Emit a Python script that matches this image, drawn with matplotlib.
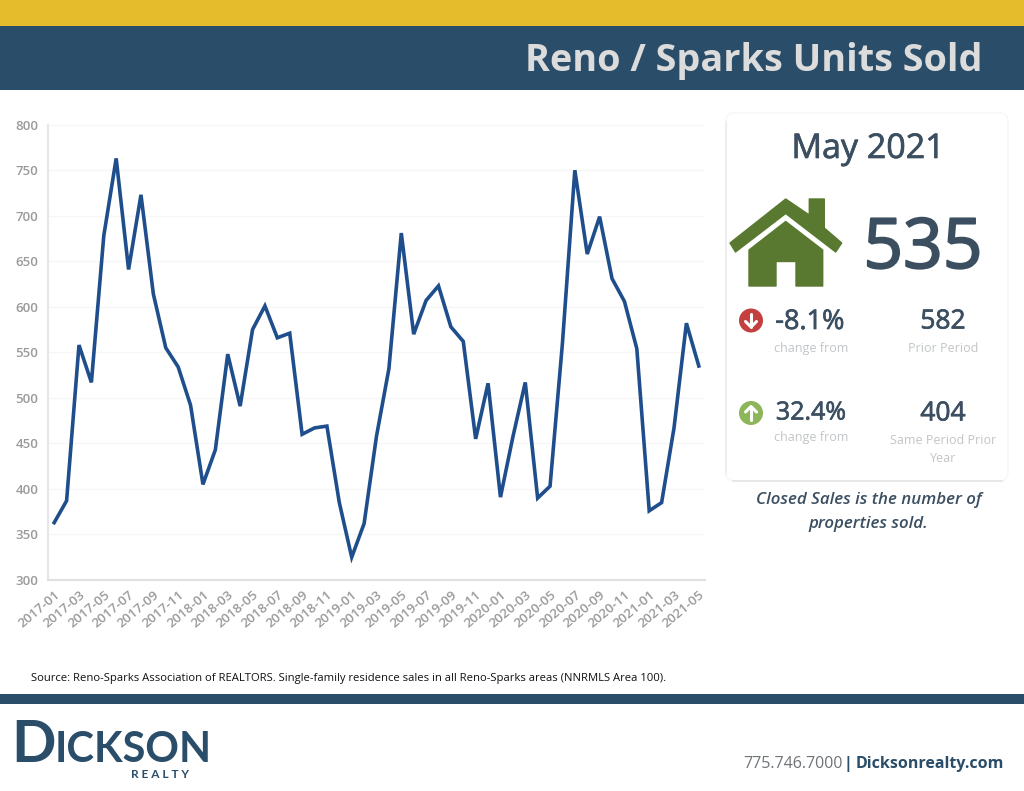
import matplotlib
matplotlib.use('Agg')
import matplotlib.pyplot as plt
import matplotlib.patheffects as pe
from matplotlib.patches import Rectangle, Polygon, Circle, FancyBboxPatch

months = ['%d-%02d' % (y, m) for y in range(2017, 2022) for m in range(1, 13)][:53]
units = [363, 387, 558, 517, 678, 763, 641, 723, 614, 555, 534, 492,
         405, 443, 548, 491, 575, 601, 566, 571, 460, 467, 469, 385,
         325, 362, 458, 532, 681, 570, 607, 623, 578, 562, 455, 516,
         391, 457, 517, 390, 403, 560, 750, 658, 699, 631, 606, 554,
         376, 385, 467, 582, 535]
y_ticks = [300, 350, 400, 450, 500, 550, 600, 650, 700, 750, 800]

W, H = 1024, 791
NAVY = '#2A4D69'
SLATE = '#3B4F61'
LABEL = '#C2C5C7'

fig = plt.figure(figsize=(W/100, H/100), dpi=100)
fig.set_facecolor('white')

# page furniture is laid out in pixels on a full size axes
bg = fig.add_axes([0, 0, 1, 1], xlim=(0, W), ylim=(H, 0))
bg.axis('off')
bg.add_patch(Rectangle((0, 0), W, 25.5, fc='#E5BC2B', ec='none'))
bg.add_patch(Rectangle((0, 25.5), W, 64.5, fc=NAVY, ec='none'))
bg.add_patch(Rectangle((0, 694), W, 10, fc=NAVY, ec='none'))
bg.text(982, 61, 'Reno / Sparks Units Sold', ha='right', va='center', color='#DCDCDC',
        family='Open Sans', weight='bold', fontsize=27.2)

# card
bg.add_patch(FancyBboxPatch((731, 118), 272, 358, boxstyle='round,pad=5,rounding_size=8',
                            fc='white', ec='#F8F8F8', lw=1.2))
bg.plot([726, 726], [122, 473], color='#EEEEEE', lw=1.5)
bg.plot([733, 1002], [481, 481], color='#E8E8E8', lw=1.5)
t = bg.text(868, 149, 'May 2021', ha='center', va='center', color=SLATE, family='Open Sans', fontsize=24.5)
t.set_path_effects([pe.withStroke(linewidth=0.5, foreground=SLATE)])
t = bg.text(923, 250, '535', ha='center', va='center', color=SLATE, family='Open Sans', fontsize=50)
t.set_path_effects([pe.withStroke(linewidth=1.4, foreground=SLATE)])

# house icon
GREEN = '#58792F'
roof = [(785.7, 199), (730, 243), (735.5, 252), (785.7, 213.5), (835.7, 252), (841.7, 243),
        (824.3, 228), (824.3, 199), (809.3, 199), (809.3, 215)]
body = [(785.7, 221.5), (822.7, 250), (822.7, 286), (796, 286), (796, 261.5), (776, 261.5),
        (776, 286), (749, 286), (749, 250)]
bg.add_patch(Polygon(roof, closed=True, fc=GREEN, ec=GREEN, lw=1, joinstyle='round'))
bg.add_patch(Polygon(body, closed=True, fc=GREEN, ec=GREEN, lw=1, joinstyle='round'))

# change rows
bg.add_patch(Circle((751, 320.5), 12, fc='#C4403F', ec='none'))
bg.plot([751, 751], [314, 327], color='white', lw=2.2, solid_capstyle='round')
bg.plot([745.5, 751, 756.5], [321.5, 327, 321.5], color='white', lw=2.2, solid_capstyle='round')
bg.add_patch(Circle((751, 413), 12, fc='#8DB65A', ec='none'))
bg.plot([751, 751], [406.5, 419.5], color='white', lw=2.2, solid_capstyle='round')
bg.plot([745.5, 751, 756.5], [412, 406.5, 412], color='white', lw=2.2, solid_capstyle='round')

stroke = [pe.withStroke(linewidth=0.5, foreground=SLATE)]
bg.text(810, 322, '-8.1%', ha='center', va='center', color=SLATE, family='Open Sans',
        fontsize=19.5, path_effects=stroke)
bg.text(811, 348.5, 'change from', ha='center', va='center', color=LABEL, family='Open Sans', fontsize=9)
bg.text(943, 322, '582', ha='center', va='center', color=SLATE, family='Open Sans',
        fontsize=19, path_effects=stroke)
bg.text(943, 348.5, 'Prior Period', ha='center', va='center', color=LABEL, family='Open Sans', fontsize=9)
bg.text(811, 413, '32.4%', ha='center', va='center', color=SLATE, family='Open Sans',
        fontsize=18, path_effects=stroke)
bg.text(811, 437.5, 'change from', ha='center', va='center', color=LABEL, family='Open Sans', fontsize=9)
bg.text(943, 414, '404', ha='center', va='center', color=SLATE, family='Open Sans',
        fontsize=19, path_effects=stroke)
bg.text(943, 441, 'Same Period Prior', ha='center', va='center', color=LABEL, family='Open Sans', fontsize=9)
bg.text(943, 459, 'Year', ha='center', va='center', color=LABEL, family='Open Sans', fontsize=9)

bg.text(869, 500, 'Closed Sales is the number of', ha='center', va='center', color=SLATE,
        family='Open Sans', style='italic', weight='semibold', fontsize=12.2)
bg.text(868, 524, 'properties sold.', ha='center', va='center', color=SLATE,
        family='Open Sans', style='italic', weight='semibold', fontsize=12.2)

# footer
bg.text(31, 679, 'Source: Reno-Sparks Association of REALTORS. Single-family residence sales in all '
        'Reno-Sparks areas (NNRMLS Area 100).', ha='left', va='center', color='#111111',
        family='Open Sans', fontsize=8.08)
bg.text(11, 762, 'D', ha='left', va='baseline', color=NAVY, family='Lato', weight='bold', fontsize=42)
bg.text(55, 762, 'ICKSON', ha='left', va='baseline', color=NAVY, family='Lato', weight='bold', fontsize=30)
bg.text(131, 778, 'R E A L T Y', ha='left', va='baseline', color=NAVY, family='Lato', weight='bold', fontsize=8.6)
bg.text(843, 764, '775.746.7000', ha='right', va='center', color='#6E7478', family='Open Sans', fontsize=11.5)
bg.text(848, 764, '|', ha='center', va='center', color=NAVY, family='Open Sans', weight='bold', fontsize=11.5)
bg.text(856, 764, 'Dicksonrealty.com', ha='left', va='center', color=NAVY, family='Open Sans',
        weight='bold', fontsize=11.5)

# chart
ax = fig.add_axes([48/W, 1 - 580/H, (705 - 48)/W, (580 - 124.7)/H])
ax.patch.set_alpha(0)
ax.plot(range(len(units)), units, color='#1F4E8C', lw=2.6, solid_joinstyle='miter')
ax.set_xlim(-0.5, len(units) - 0.5)
ax.set_ylim(300, 800)
ax.set_yticks(y_ticks)
ax.set_xticks(range(0, len(months), 2))
ax.set_xticklabels(months[::2], rotation=40, ha='right', rotation_mode='anchor')
ax.tick_params(axis='both', length=0, labelcolor='#9A9A9A', labelsize=9.5)
ax.tick_params(axis='y', pad=7)
ax.tick_params(axis='x', pad=6)
for lab in ax.get_xticklabels() + ax.get_yticklabels():
    lab.set_family('Open Sans')
    lab.set_weight('semibold')
ax.grid(axis='y', color='#F6F6F6', lw=1)
ax.set_axisbelow(True)
ax.spines['top'].set_visible(False)
ax.spines['right'].set_visible(False)
ax.spines['left'].set_color('#E6E6E6')
ax.spines['bottom'].set_color('#E0E0E0')
ax.spines['left'].set_linewidth(1.5)
ax.spines['bottom'].set_linewidth(1.5)

fig.savefig('out.png', dpi=100)
